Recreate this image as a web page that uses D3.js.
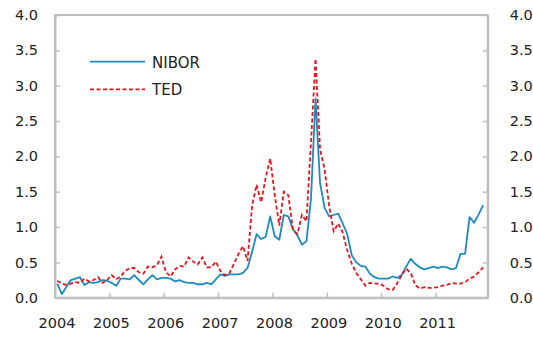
<!DOCTYPE html>
<html><head><meta charset="utf-8">
<script src="https://cdn.jsdelivr.net/npm/d3@7"></script>
<style>html,body{margin:0;padding:0;background:#fff;}svg{display:block;}</style>
</head><body>
<script>
const years = ["2004","2005","2006","2007","2008","2009","2010","2011"];
const yTicks = [0,0.5,1,1.5,2,2.5,3,3.5,4];
const seriesNames = ["NIBOR","TED"];
// monthly, Jan 2004 .. Nov 2011
const nibor = [0.20,0.05,0.15,0.25,0.27,0.29,0.18,0.22,0.21,0.22,0.25,0.24,
0.21,0.17,0.27,0.27,0.26,0.32,0.25,0.19,0.26,0.32,0.26,0.28,
0.28,0.27,0.23,0.25,0.22,0.21,0.21,0.19,0.19,0.21,0.19,0.26,
0.33,0.31,0.33,0.33,0.33,0.35,0.42,0.65,0.90,0.83,0.86,1.15,
0.87,0.82,1.17,1.15,0.97,0.88,0.75,0.80,1.40,2.82,1.62,1.27,
1.15,1.17,1.19,1.05,0.90,0.60,0.50,0.45,0.44,0.34,0.29,0.27,
0.27,0.27,0.30,0.28,0.32,0.44,0.55,0.48,0.43,0.40,0.42,0.44,
0.42,0.44,0.43,0.40,0.42,0.62,0.62,1.14,1.06,1.18,1.31];
const ted = [0.24,0.20,0.18,0.20,0.22,0.21,0.27,0.23,0.25,0.29,0.21,0.25,
0.32,0.26,0.30,0.38,0.42,0.42,0.36,0.34,0.44,0.43,0.46,0.58,
0.36,0.30,0.40,0.45,0.44,0.57,0.51,0.47,0.57,0.43,0.43,0.51,
0.38,0.32,0.35,0.48,0.62,0.73,0.52,1.30,1.60,1.35,1.70,1.97,
1.45,1.02,1.50,1.45,0.97,0.90,1.17,1.08,2.20,3.38,2.10,1.82,
1.30,0.94,1.05,0.92,0.67,0.48,0.35,0.26,0.17,0.21,0.20,0.20,
0.17,0.12,0.11,0.20,0.32,0.41,0.35,0.18,0.13,0.15,0.14,0.14,
0.15,0.17,0.18,0.21,0.20,0.20,0.22,0.27,0.30,0.36,0.43];

const W=533,H=337;
const L=55,R=487.7,T=15,B=297.7;
const svg=d3.select("body").append("svg").attr("width",W).attr("height",H);
const x=d3.scaleLinear().domain([0,95.5]).range([L,R]);
const y=d3.scaleLinear().domain([0,4]).range([B,T]);
const font="'DejaVu Sans', sans-serif";
const axisCol="#bfbfbf", textCol="#222";

// frame
svg.append("rect").attr("x",L).attr("y",T).attr("width",R-L).attr("height",B-T)
  .attr("fill","none").attr("stroke",axisCol).attr("stroke-width",2);

// left axis
const gl=svg.append("g").attr("transform",`translate(${L},0)`)
  .call(d3.axisLeft(y).tickValues(yTicks).tickFormat(d3.format(".1f")).tickSizeInner(-5).tickSizeOuter(0).tickPadding(17));
const gr=svg.append("g").attr("transform",`translate(${R},0)`)
  .call(d3.axisRight(y).tickValues(yTicks).tickFormat(d3.format(".1f")).tickSizeInner(-5).tickSizeOuter(0).tickPadding(22));
const gb=svg.append("g").attr("transform",`translate(0,${B})`)
  .call(d3.axisBottom(x).tickValues(years.map((d,i)=>i*12)).tickFormat((d,i)=>years[i]).tickSizeInner(-5).tickSizeOuter(0).tickPadding(20));
[gl,gr,gb].forEach(g=>{
  g.select(".domain").attr("stroke",axisCol).attr("stroke-width",2);
  g.selectAll(".tick line").attr("stroke",axisCol).attr("stroke-width",1.5);
  g.selectAll("text").attr("fill",textCol).style("font-family",font).style("font-size","14.5px");
});
gb.selectAll(".tick text").attr("dx",1.5);

const line=d3.line().x((d,i)=>x(i+0.5)).y(d=>y(d));
svg.append("path").datum(nibor).attr("d",line).attr("fill","none")
  .attr("stroke","#1f8ac0").attr("stroke-width",1.8).attr("stroke-linejoin","round");
svg.append("path").datum(ted).attr("d",line).attr("fill","none")
  .attr("stroke","#e8141c").attr("stroke-width",1.8).attr("stroke-dasharray","4,2.5");

// legend
const leg=[{n:seriesNames[0],c:"#1f8ac0",dash:null,y:61.7},{n:seriesNames[1],c:"#e8141c",dash:"4,2.5",y:89.3}];
leg.forEach(d=>{
  svg.append("line").attr("x1",90).attr("x2",145).attr("y1",d.y).attr("y2",d.y)
    .attr("stroke",d.c).attr("stroke-width",1.8).attr("stroke-dasharray",d.dash);
  svg.append("text").attr("x",152).attr("y",d.y+6).text(d.n)
    .attr("fill",textCol).style("font-family",font).style("font-size","15px");
});
</script>
</body></html>
